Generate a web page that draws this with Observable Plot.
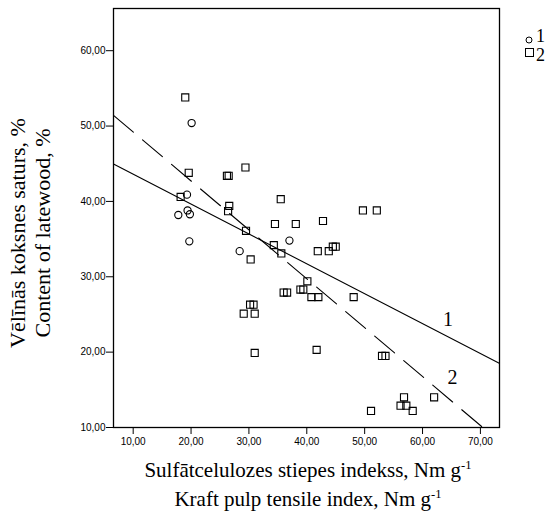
<!DOCTYPE html>
<html><head><meta charset="utf-8">
<script src="https://cdn.jsdelivr.net/npm/d3@7"></script>
<script src="https://cdn.jsdelivr.net/npm/@observablehq/plot@0.6"></script>
<style>
body{margin:0;background:#fff}
#wrap{position:relative;width:551px;height:513px;overflow:hidden;color:#000}
.lab{position:absolute;white-space:nowrap;text-align:center;font-family:'Liberation Serif','Times New Roman',serif}
sup{font-size:60%;vertical-align:0.6em;line-height:0}
</style></head><body><div id="wrap"></div>
<script>
// Group 1 (circles)
const g1X = [20.1, 19.3, 19.4, 17.8, 19.8, 19.7, 28.4, 37.0];
const g1Y = [50.4, 40.9, 38.8, 38.2, 38.3, 34.7, 33.4, 34.8];
// Group 2 (squares)
const g2X = [19.0, 19.6, 26.2, 26.5, 29.4, 18.2, 35.5, 26.6, 26.4, 34.5, 38.1, 29.5, 34.3, 35.6, 30.3,
             49.7, 52.1, 42.8, 41.9, 43.8, 44.5, 45.0, 36.0, 36.6, 40.1, 38.9, 39.4, 40.8, 42.0, 48.1,
             41.7, 53.0, 53.6, 56.8, 62.0, 56.2, 57.2, 51.1, 58.3, 30.2, 30.8, 29.1, 31.0, 31.0];
const g2Y = [53.8, 43.8, 43.4, 43.4, 44.5, 40.6, 40.3, 39.4, 38.7, 37.0, 37.0, 36.1, 34.2, 33.1, 32.3,
             38.8, 38.8, 37.4, 33.4, 33.4, 34.0, 34.0, 27.9, 27.9, 29.4, 28.3, 28.3, 27.3, 27.3, 27.3,
             20.3, 19.5, 19.5, 14.0, 14.0, 12.9, 12.9, 12.2, 12.2, 26.3, 26.3, 25.1, 25.1, 19.9];
// Fit lines
const fitNames = ["1", "2"];
const fitIntercept = [47.6, 55.7];
const fitSlope = [-0.397, -0.649];
const fitLabelX = [64.4, 65.2];
const fitLabelY = [24.3, 16.6];
// Ticks
const xTicks = [10, 20, 30, 40, 50, 60, 70];
const yTicks = [10, 20, 30, 40, 50, 60];
const xDomain = [6.6, 73.3];
const yDomain = [10, 65.6];

const fmt = v => v.toFixed(2).replace(".", ",");
const pts1 = g1X.map((x, i) => ({x, y: g1Y[i]}));
const pts2 = g2X.map((x, i) => ({x, y: g2Y[i]}));
const fitLine = k => xDomain.map(x => ({x, y: fitIntercept[k] + fitSlope[k] * x}));
const labels = fitNames.map((t, i) => ({t, x: fitLabelX[i], y: fitLabelY[i]}));

const chart = Plot.plot({
  width: 551, height: 513,
  marginLeft: 113, marginRight: 52, marginTop: 8, marginBottom: 86,
  x: {domain: xDomain},
  y: {domain: yDomain},
  style: {fontFamily: "'Liberation Sans', Arial, sans-serif", fontSize: "10px", color: "#000", background: "transparent"},
  marks: [
    Plot.axisX({ticks: xTicks, tickFormat: fmt, tickSize: 7, tickPadding: 3, label: null}),
    Plot.axisY({ticks: yTicks, tickFormat: fmt, tickSize: 7, tickPadding: 1, label: null}),
    Plot.line(fitLine(0), {x: "x", y: "y", stroke: "#000", strokeWidth: 1.1, clip: true}),
    Plot.line(fitLine(1), {x: "x", y: "y", stroke: "#000", strokeWidth: 1.1, strokeDasharray: "26,12", clip: true}),
    Plot.dot(pts1, {x: "x", y: "y", symbol: "circle", r: 3.6, stroke: "#000", strokeWidth: 1.1, fill: "none"}),
    Plot.dot(pts2, {x: "x", y: "y", symbol: "square", r: 4, stroke: "#000", strokeWidth: 1.1, fill: "none"}),
    Plot.text(labels, {x: "x", y: "y", text: "t", fontSize: 20, fontFamily: "'Liberation Serif', serif", fill: "#000"}),
    Plot.frame({stroke: "#000", strokeWidth: 1.3})
  ]
});
const wrap = document.getElementById("wrap");
wrap.appendChild(chart);
chart.style.position = "absolute"; chart.style.left = "0"; chart.style.top = "0";

function addLabel(html, style) {
  const d = document.createElement("div");
  d.className = "lab";
  d.innerHTML = html;
  d.style.fontFamily = "'Liberation Serif', 'Times New Roman', serif";
  Object.assign(d.style, style);
  wrap.appendChild(d);
}
// y-axis title (two lines, rotated)
addLabel("Vēlīnās koksnes saturs, %", {fontSize: "22px", lineHeight: "22px", width: "320px", left: (17.6 - 160) + "px", top: (233 - 11) + "px", transform: "rotate(-90deg)"});
addLabel("Content of latewood, %", {fontSize: "22px", lineHeight: "22px", width: "320px", left: (42.6 - 160) + "px", top: (233 - 11) + "px", transform: "rotate(-90deg)"});
// x-axis title
addLabel("Sulfātcelulozes stiepes indekss, Nm g<sup>-1</sup>", {fontSize: "21px", lineHeight: "21px", width: "400px", left: (308 - 200) + "px", top: "460px"});
addLabel("Kraft pulp tensile index, Nm g<sup>-1</sup>", {fontSize: "21px", lineHeight: "21px", width: "400px", left: (308 - 200) + "px", top: "489px"});
// legend
addLabel('<svg width="8" height="8" style="display:block"><circle cx="4" cy="4" r="3" fill="none" stroke="#000" stroke-width="1"/></svg>', {left: "525px", top: "36px", lineHeight: "8px"});
addLabel("1", {fontSize: "18px", lineHeight: "18px", left: "536px", top: "27px", textAlign: "left"});
addLabel('<svg width="9" height="9" style="display:block"><rect x="0.5" y="0.5" width="8" height="8" fill="none" stroke="#000" stroke-width="1"/></svg>', {left: "525px", top: "48px", lineHeight: "9px"});
addLabel("2", {fontSize: "18px", lineHeight: "18px", left: "536px", top: "46px", textAlign: "left"});
</script></body></html>
